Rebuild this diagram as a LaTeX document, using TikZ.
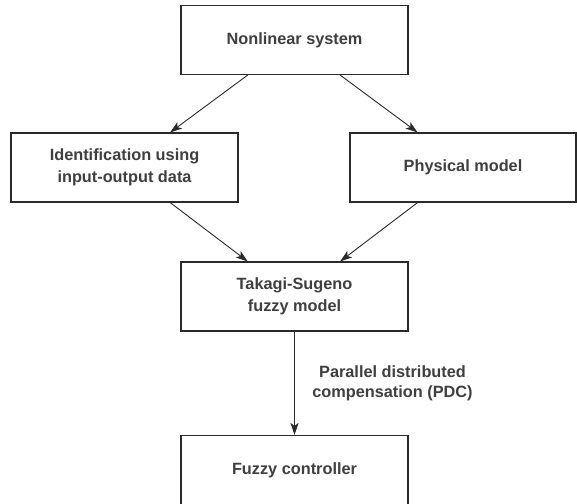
\documentclass[tikz,border=0pt]{standalone}
\usepackage{fontspec}
\setmainfont{Liberation Sans}
\usetikzlibrary{calc,arrows.meta}
\definecolor{ink}{HTML}{2A2A2A}
\begin{document}
\begin{tikzpicture}[x=1pt,y=-1pt,
  block/.style={draw=ink, line width=1.1pt, rectangle, minimum width=227pt,
    minimum height=69pt, align=center, inner sep=0pt,
    font=\fontsize{16.3}{21.5}\selectfont\bfseries, text=ink!90},
  flow/.style={draw=ink, line width=0.9pt, -{Stealth[length=12pt,width=8pt,inset=3pt]}},
  lbl/.style={align=center, font=\fontsize{16.3}{20}\selectfont\bfseries, text=ink!90}]
  \useasboundingbox (0,0) rectangle (577,503);
  \fill[white] (0,0) rectangle (577,503);

  \node[block] (sys)  at (294.5,40)    {Nonlinear system};
  \node[block] (ident) at (124.5,167.5) {Identification using\\input-output data};
  \node[block, minimum width=226pt] (phys) at (463,167.5) {Physical model};
  \node[block] (ts)   at (294.5,296.5) {Takagi-Sugeno\\fuzzy model};
  \node[block] (ctrl) at (294.5,470)   {Fuzzy controller};

  \draw[flow] ($(sys.south west)!0.295!(sys.south east)$) -- ($(ident.north west)!0.70!(ident.north east)$);
  \draw[flow] ($(sys.south west)!0.70!(sys.south east)$) -- ($(phys.north west)!0.30!(phys.north east)$);
  \draw[flow] ($(ident.south west)!0.70!(ident.south east)$) -- ($(ts.north west)!0.295!(ts.north east)$);
  \draw[flow] ($(phys.south west)!0.30!(phys.south east)$) -- ($(ts.north west)!0.70!(ts.north east)$);
  \draw[flow] (ts.south) -- (ctrl.north);

  \node[lbl] (pdc) at (392.5,383) {Parallel distributed\\compensation (PDC)};
\end{tikzpicture}
\end{document}
